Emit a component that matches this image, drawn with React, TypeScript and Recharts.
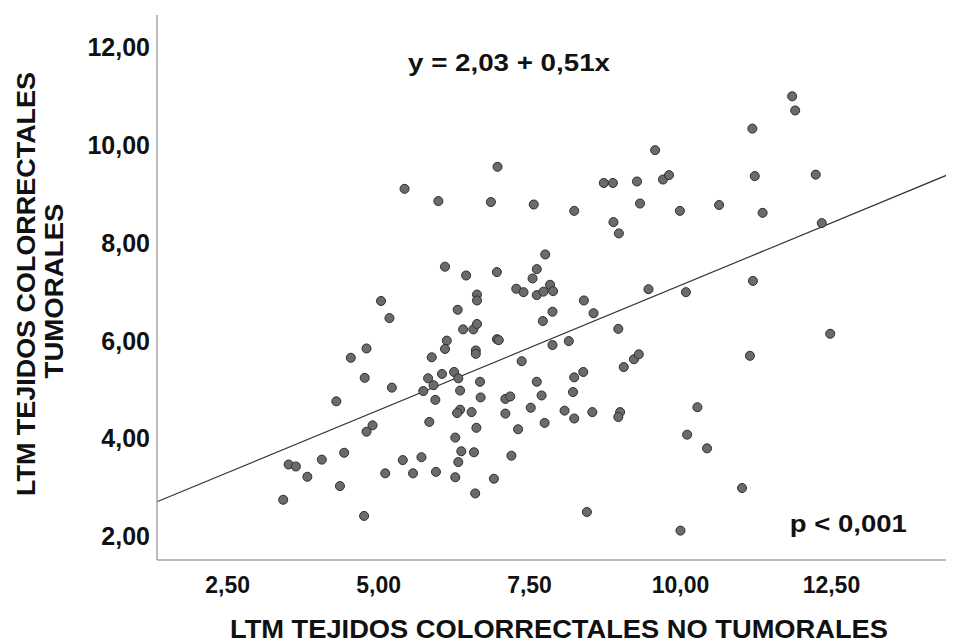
import { ScatterChart, Scatter, XAxis, YAxis, ZAxis, ReferenceLine, ReferenceDot } from "recharts";

// LTM no tumorales (x) / tumorales (y)
const noTumorales = [
  6.97, 5.43, 5.99, 6.86, 7.57, 7.76, 6.1, 6.45, 6.96, 7.62, 7.55, 7.28, 7.4, 7.62, 7.73, 7.84, 7.89,
  6.63, 6.63, 5.04, 5.18, 6.31, 6.4, 6.57, 6.63, 6.96, 6.99, 7.72, 7.88, 4.8, 4.54, 6.13, 6.1, 5.88,
  6.61, 6.61, 7.37, 7.88, 8.15, 8.4, 8.56, 9.47, 10.09, 11.2, 8.97, 12.48, 11.15, 8.24, 8.39, 9.06,
  9.23, 9.31, 8.22, 8.08, 8.24, 8.54, 9.0, 8.97, 10.28, 10.11, 10.44, 11.02, 8.45, 10.0, 11.85, 11.9,
  11.19, 9.58, 8.73, 8.88, 9.28, 9.71, 9.81, 11.23, 12.24, 8.24, 9.33, 9.99, 10.64, 11.36, 8.89, 8.98,
  12.34, 5.22, 4.77, 5.82, 5.91, 6.05, 6.25, 6.32, 5.74, 6.35, 6.68, 7.62, 4.3, 5.94, 6.69, 7.1, 7.18,
  7.7, 6.35, 6.3, 6.54, 7.1, 7.52, 5.84, 7.75, 4.9, 4.8, 6.62, 7.31, 6.27, 4.43, 4.06, 3.51, 3.63,
  3.82, 4.36, 3.42, 4.76, 5.11, 5.4, 5.57, 5.71, 5.95, 6.37, 6.32, 6.58, 6.27, 6.6, 6.91, 7.2,
];
const tumorales = [
  9.55, 9.1, 8.85, 8.83, 8.78, 7.76, 7.51, 7.33, 7.4, 7.46, 7.27, 7.06, 6.99, 6.93, 7.0, 7.14, 7.01,
  6.94, 6.82, 6.81, 6.46, 6.63, 6.23, 6.23, 6.34, 6.03, 6.01, 6.4, 6.59, 5.84, 5.65, 6.0, 5.83, 5.66,
  5.8, 5.73, 5.58, 5.91, 5.99, 6.82, 6.56, 7.05, 6.99, 7.22, 6.24, 6.14, 5.69, 5.25, 5.36, 5.46,
  5.62, 5.72, 4.95, 4.57, 4.41, 4.54, 4.54, 4.44, 4.64, 4.08, 3.8, 2.99, 2.5, 2.12, 10.99, 10.7,
  10.33, 9.89, 9.22, 9.22, 9.25, 9.29, 9.38, 9.36, 9.39, 8.65, 8.8, 8.65, 8.77, 8.61, 8.42, 8.19,
  8.4, 5.04, 5.24, 5.23, 5.09, 5.32, 5.36, 5.23, 4.97, 4.98, 5.16, 5.16, 4.76, 4.79, 4.84, 4.81, 4.86,
  4.88, 4.59, 4.52, 4.54, 4.51, 4.63, 4.34, 4.32, 4.27, 4.14, 4.22, 4.19, 4.02, 3.71, 3.57, 3.47, 3.43,
  3.22, 3.03, 2.75, 2.42, 3.29, 3.56, 3.29, 3.62, 3.32, 3.74, 3.52, 3.72, 3.21, 2.88, 3.18, 3.65,
];

const xTicks = [2.5, 5, 7.5, 10, 12.5];
const yTicks = [2, 4, 6, 8, 10, 12];
const xDomain: [number, number] = [1.33, 14.53];
const yDomain: [number, number] = [1.52, 12.65];

// ajuste lineal
const intercept = 2.03;
const slope = 0.51;
const eqLabel = "y = 2,03 + 0,51x";
const pLabel = "p < 0,001";
const xTitle = "LTM TEJIDOS COLORRECTALES NO TUMORALES";
const yTitle = ["LTM TEJIDOS COLORRECTALES", "TUMORALES"];

const data = noTumorales.map((x, i) => ({ x, y: tumorales[i] }));
const fmt = (v: number) => v.toFixed(2).replace(".", ",");
const FONT = '"Liberation Sans", Arial, Helvetica, sans-serif';

function XTitle() {
  return (
    <text x={551} y={630} textAnchor="middle" fontFamily={FONT} fontWeight="bold" fontSize={25}
      fill="#111" textLength={658} lengthAdjust="spacingAndGlyphs">
      {xTitle}
    </text>
  );
}

function YTitle() {
  return (
    <g fontFamily={FONT} fontWeight="bold" fontSize={25} fill="#111">
      <text transform="translate(27,276) rotate(-90)" textAnchor="middle" textLength={424} lengthAdjust="spacingAndGlyphs">
        {yTitle[0]}
      </text>
      <text transform="translate(55,283) rotate(-90)" textAnchor="middle" textLength={175} lengthAdjust="spacingAndGlyphs">
        {yTitle[1]}
      </text>
    </g>
  );
}

function note(text: string, len: number) {
  return (props: any) => {
    const vb = props.viewBox || {};
    const cx = vb.x + (vb.width || 0) / 2;
    const cy = vb.y + (vb.height || 0) / 2;
    return (
      <text x={cx} y={cy + 8.5} textAnchor="middle" fontFamily={FONT} fontWeight="bold" fontSize={24}
        fill="#111" textLength={len} lengthAdjust="spacingAndGlyphs">
        {text}
      </text>
    );
  };
}

export default function App() {
  const tickStyle = { fontFamily: FONT, fontWeight: "bold", fill: "#111" };
  return (
    <ScatterChart width={946} height={636} margin={{ top: 7, right: 0, bottom: 0, left: 0 }}>
      <XAxis
        type="number"
        dataKey="x"
        domain={xDomain}
        ticks={xTicks}
        allowDataOverflow
        tickFormatter={fmt}
        height={84}
        tickLine={false}
        tickSize={0}
        tickMargin={17}
        axisLine={{ stroke: "#a6a6a6", strokeWidth: 1.5 }}
        tick={{ ...tickStyle, fontSize: 23 }}
        label={{ content: () => <XTitle /> }}
      />
      <YAxis
        type="number"
        dataKey="y"
        domain={yDomain}
        ticks={yTicks}
        allowDataOverflow
        tickFormatter={fmt}
        width={149}
        tickLine={false}
        tickSize={0}
        tickMargin={7}
        axisLine={{ stroke: "#a6a6a6", strokeWidth: 1.5 }}
        tick={{ ...tickStyle, fontSize: 25 }}
        label={{ content: () => <YTitle /> }}
      />
      <ZAxis range={[80, 80]} />
      <ReferenceLine
        segment={[
          { x: xDomain[0], y: intercept + slope * xDomain[0] },
          { x: xDomain[1], y: intercept + slope * xDomain[1] },
        ]}
        stroke="#333"
        strokeWidth={1.2}
        ifOverflow="visible"
      />
      <Scatter data={data} fill="#6b6b6b" stroke="#2e2e2e" strokeWidth={1} isAnimationActive={false} />
      <ReferenceDot x={7.16} y={11.69} r={0} fill="none" stroke="none" label={{ content: note(eqLabel, 202) }} />
      <ReferenceDot x={12.78} y={2.27} r={0} fill="none" stroke="none" label={{ content: note(pLabel, 117) }} />
    </ScatterChart>
  );
}
